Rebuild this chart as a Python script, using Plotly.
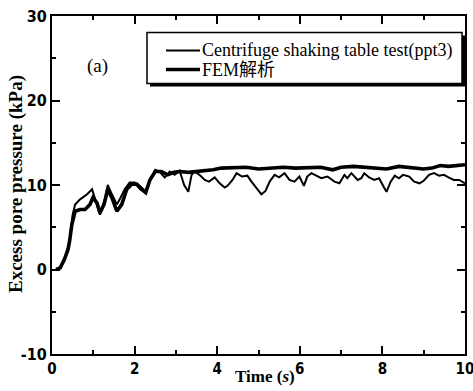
import plotly.graph_objects as go

# Centrifuge shaking table test (ppt3)
test_t = [0.1, 0.2, 0.3, 0.43, 0.5, 0.56, 0.68, 0.85, 0.97, 1.09, 1.16, 1.28, 1.35, 1.45, 1.57, 1.64,
          1.76, 1.88, 2.0, 2.13, 2.25, 2.37, 2.5, 2.6, 2.73, 2.85, 2.97, 3.09, 3.2, 3.3, 3.38, 3.45,
          3.57, 3.7, 3.8, 3.94, 4.06, 4.18, 4.25, 4.37, 4.47, 4.6, 4.73, 4.83, 4.98, 5.07, 5.17, 5.27,
          5.39, 5.5, 5.63, 5.75, 5.87, 5.99, 6.1, 6.18, 6.28, 6.42, 6.52, 6.67, 6.84, 6.96, 7.08, 7.15,
          7.25, 7.4, 7.49, 7.56, 7.68, 7.8, 7.92, 8.04, 8.1, 8.2, 8.3, 8.4, 8.5, 8.65, 8.77, 8.9, 9.0,
          9.13, 9.25, 9.37, 9.49, 9.6, 9.73, 9.86, 10.0]
test_p = [0.0, 0.3, 1.0, 3.5, 6.5, 7.7, 8.3, 8.9, 9.5, 7.7, 6.5, 8.3, 10.0, 8.9, 7.7, 8.3,
          9.5, 10.3, 10.3, 9.5, 9.1, 10.6, 11.8, 11.6, 10.9, 11.6, 11.2, 11.7, 10.0, 9.2, 11.2, 11.6,
          11.2, 10.6, 10.4, 10.9, 10.2, 9.7, 9.9, 10.6, 11.4, 11.0, 11.1, 10.4, 9.5, 8.9, 9.3, 10.4,
          11.2, 10.9, 11.4, 10.6, 10.4, 11.0, 9.9, 11.0, 11.4, 11.1, 10.8, 11.0, 10.4, 10.2, 11.2, 10.8,
          11.4, 10.6, 10.8, 11.4, 10.9, 10.6, 10.8, 9.7, 9.2, 10.4, 11.1, 10.8, 11.2, 11.0, 10.4, 10.2, 10.5,
          11.2, 11.4, 11.1, 11.2, 10.9, 10.6, 10.6, 10.2]

# FEM analysis
fem_t = [0.1, 0.2, 0.3, 0.39, 0.43, 0.48, 0.56, 0.68, 0.8, 0.92, 0.99, 1.09, 1.16, 1.26, 1.35, 1.45,
         1.57, 1.69, 1.81, 1.93, 2.05, 2.17, 2.27, 2.37, 2.5, 2.65, 2.8, 2.95, 3.1, 3.3, 3.5, 3.7,
         3.9, 4.1, 4.4, 4.7, 5.0, 5.3, 5.6, 5.9, 6.2, 6.5, 6.8, 7.0, 7.3, 7.6, 7.9, 8.1, 8.4, 8.7,
         9.0, 9.2, 9.4, 9.6, 9.8, 10.0]
fem_p = [0.0, 0.2, 1.2, 2.4, 3.5, 5.3, 6.9, 7.1, 7.1, 7.7, 8.5, 7.9, 6.7, 7.7, 9.5, 8.5,
         6.9, 7.7, 9.5, 10.1, 10.1, 9.5, 9.1, 10.6, 11.6, 11.6, 11.2, 11.5, 11.6, 11.5, 11.6, 11.6,
         11.8, 12.0, 12.0, 12.1, 11.9, 12.0, 12.1, 12.0, 12.0, 12.1, 11.8, 12.1, 12.2, 12.1, 12.0, 11.9, 12.2, 12.1,
         11.9, 12.0, 12.3, 12.2, 12.3, 12.4]

series_names = ["Centrifuge shaking table test(ppt3)", "FEM解析"]
x_ticks = [0, 2, 4, 6, 8, 10]
y_ticks = [-10, 0, 10, 20, 30]

SERIF = "Liberation Serif, Noto Sans CJK SC, serif"
TICKF = "DejaVu Sans Condensed, Liberation Sans Narrow, Roboto Condensed, Liberation Sans, sans-serif"
W_THIN, W_THICK = 2.0, 3.6

fig = go.Figure()
fig.add_trace(go.Scatter(x=test_t, y=test_p, mode="lines", name=series_names[0],
                         line=dict(color="black", width=W_THIN), showlegend=False))
fig.add_trace(go.Scatter(x=fem_t, y=fem_p, mode="lines", name=series_names[1],
                         line=dict(color="black", width=W_THICK), showlegend=False))

# pixel -> data helpers for decoration placement
def px2x(p):
    return (p - 52) / 41.3
def py2y(p):
    return (270 - p) / 8.45

# legend box with drop shadow
fig.add_shape(type="rect", x0=px2x(150), x1=px2x(465), y0=py2y(87), y1=py2y(36),
              fillcolor="black", line=dict(width=0), layer="above")
fig.add_shape(type="rect", x0=px2x(147), x1=px2x(462), y0=py2y(84), y1=py2y(33),
              fillcolor="white", line=dict(color="black", width=1.5), layer="above")
# legend samples and labels
for i, (w, ypix) in enumerate([(W_THIN, 51), (W_THICK, 70)]):
    fig.add_shape(type="line", x0=px2x(166), x1=px2x(200), y0=py2y(ypix), y1=py2y(ypix),
                  line=dict(color="black", width=w), layer="above")
    fig.add_annotation(x=px2x(200), y=py2y(ypix), xanchor="left", yanchor="middle",
                       text=series_names[i], showarrow=False,
                       font=dict(family=SERIF, size=18, color="black"))

fig.add_annotation(x=px2x(97), y=py2y(66), text="(a)", showarrow=False,
                   font=dict(family=SERIF, size=19, color="black"))
fig.add_annotation(xref="paper", yref="paper", x=(265 - 52) / 413, y=(354 - 376) / 338,
                   yanchor="middle", text="<b>Time (<i>s</i>)</b>", showarrow=False,
                   font=dict(family=SERIF, size=17, color="black"))
fig.add_annotation(xref="paper", yref="paper", x=(16 - 52) / 413, y=(354 - 184) / 338,
                   xanchor="center", yanchor="middle", textangle=-90,
                   text="<b>Excess pore pressure (kPa)</b>", showarrow=False,
                   font=dict(family=SERIF, size=19, color="black"))

fig.update_layout(
    width=473, height=391,
    margin=dict(l=52, r=8, t=16, b=37),
    paper_bgcolor="white", plot_bgcolor="white",
    showlegend=False,
    xaxis=dict(range=[0, 10], tickvals=x_ticks, ticktext=[str(v) for v in x_ticks],
               ticks="inside", ticklen=8, tickwidth=2, tickcolor="black",
               minor=dict(dtick=1, ticks="inside", ticklen=4, tickwidth=1.5, tickcolor="black"),
               showgrid=False, zeroline=False, showline=True, linecolor="black", linewidth=2,
               mirror="allticks", automargin=False, ticklabeloverflow="allow",
               tickfont=dict(family=TICKF, size=15, color="black", weight="bold")),
    yaxis=dict(range=[-10, 30], tickvals=y_ticks, ticktext=[str(v) for v in y_ticks],
               ticks="inside", ticklen=8, tickwidth=2, tickcolor="black",
               minor=dict(dtick=5, ticks="inside", ticklen=4, tickwidth=1.5, tickcolor="black"),
               showgrid=False, zeroline=False, showline=True, linecolor="black", linewidth=2,
               mirror="allticks", automargin=False, ticklabeloverflow="allow",
               tickfont=dict(family=TICKF, size=16, color="black", weight="bold")),
)

fig.write_html("out.html", config={"displayModeBar": False},
               post_script="document.body.style.margin='0';document.body.style.overflow='hidden';")
